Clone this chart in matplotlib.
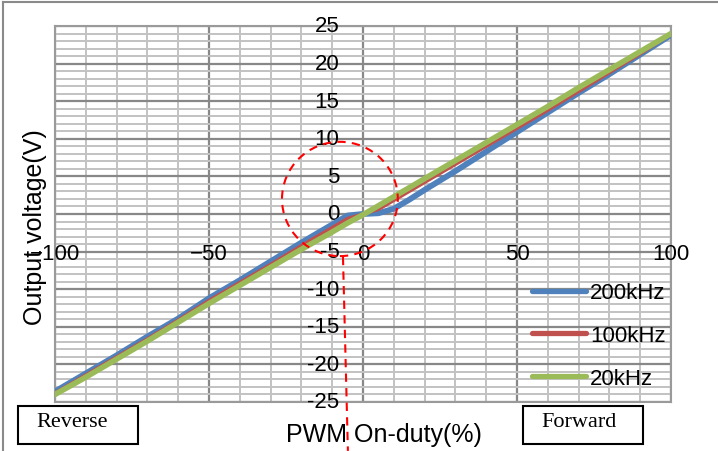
import matplotlib.pyplot as plt
from matplotlib.lines import Line2D
from matplotlib.patches import Ellipse, Rectangle
import numpy as np

###================ Data =================###

duty = [-100, -90, -80, -70, -60, -50, -40, -30, -20, -10, -5, 0,
        5, 10, 15, 20, 30, 40, 50, 60, 70, 80, 90, 100]

v_200khz = [-23.6, -21.2, -18.8, -16.3, -13.9, -11.2, -8.8, -6.3, -3.8, -1.4, -0.2, 0.0,
            0.1, 0.7, 1.9, 3.2, 5.7, 8.3, 10.9, 13.5, 16.1, 18.6, 21.2, 23.8]
v_100khz = [-23.8, -21.4, -19.0, -16.6, -14.1, -11.5, -9.1, -6.7, -4.2, -1.8, -0.6, 0.0,
            0.6, 1.8, 3.0, 4.2, 6.6, 9.0, 11.4, 13.8, 16.3, 18.8, 21.3, 23.9]
v_20khz = [-24.0, -21.7, -19.3, -16.9, -14.4, -11.9, -9.5, -7.1, -4.7, -2.4, -1.2, -0.1,
           1.1, 2.3, 3.5, 4.7, 7.1, 9.5, 11.9, 14.3, 16.8, 19.2, 21.6, 24.0]

series_labels = ["200kHz", "100kHz", "20kHz"]
series_colors = ["#4F81BD", "#C0504D", "#9BBB59"]
series_widths = [4.2, 2.4, 4.0]

x_ticks = [-100, -50, 0, 50, 100]
x_tick_labels = ["\u2212100", "\u221250", "0", "50", "100"]
y_ticks = [25, 20, 15, 10, 5, 0, -5, -10, -15, -20, -25]
y_tick_labels = ["25", "20", "15", "10", "5", "0", "-5", "-10", "-15", "-20", "-25"]

###================ Figure =================###

W, H = 718, 452
plt.rcParams['font.family'] = ['Liberation Sans', 'DejaVu Sans']

fig = plt.figure(figsize=(W / 100, H / 100), dpi=100)
ax = fig.add_axes([55 / W, (H - 403) / H, 616 / W, 376 / H])

ax.set_xlim(-100, 100)
ax.set_ylim(-25, 25)

# grid: minor every 10% / 1 V, major every 50% / 5 V
ax.set_xticks(np.arange(-100, 101, 50))
ax.set_xticks(np.arange(-100, 101, 10), minor=True)
ax.set_yticks(np.arange(-25, 26, 5))
ax.set_yticks(np.arange(-25, 26, 1), minor=True)
ax.grid(which='minor', color='#c2c2c2', lw=1.4, zorder=0)
ax.grid(which='major', color='#888888', lw=1.6, zorder=0)
ax.set_axisbelow(True)
ax.tick_params(which='both', length=0, labelbottom=False, labelleft=False)
for sp in ax.spines.values():
    sp.set_color('#9a9a9a')
    sp.set_linewidth(1.5)

# centered tick labels
for xt, lab in zip(x_ticks, x_tick_labels):
    ax.text(xt, -5.2, lab, ha='center', va='center', fontsize=16)
for yt, lab in zip(y_ticks, y_tick_labels):
    ax.text(-7.6, yt, lab, ha='right', va='center', fontsize=16)

for vals, lab, col, lw in zip([v_200khz, v_100khz, v_20khz], series_labels,
                              series_colors, series_widths):
    ax.plot(duty, vals, color=col, lw=lw, label=lab, solid_capstyle='round',
            solid_joinstyle='round', zorder=3)

handles = [Line2D([], [], color=c, lw=3.8, solid_capstyle='round') for c in series_colors]
ax.legend(handles, series_labels, loc='upper left', bbox_to_anchor=(0.775, 0.318),
          frameon=False, fontsize=16, handlelength=2.4, handletextpad=0.2,
          labelspacing=0.98, borderpad=0, borderaxespad=0)

# red dashed highlight circle and leader line
ax.add_patch(Ellipse((-7.5, 2.0), 37.6, 15.2, fill=False, ec='red', lw=1.5,
                     ls=(0, (4, 3)), zorder=4))
ax.plot([-6.5, -4.9], [-5.7, -31.5], color='red', lw=1.5, ls=(0, (4, 3)),
        clip_on=False, zorder=4)

fig.text(35 / W, 1 - 227 / H, "Output voltage(V)", rotation=90,
         ha='center', va='center', fontsize=18)
fig.text(384 / W, 1 - 435 / H, "PWM On-duty(%)", ha='center', va='center', fontsize=18)

# Reverse / Forward boxes
for x0, lab in [(18, "Reverse"), (523, "Forward")]:
    fig.patches.append(Rectangle((x0 / W, (H - 445) / H), 120 / W, 38 / H,
                                 transform=fig.transFigure, fill=False,
                                 ec='black', lw=1.5))
    fig.text((x0 + 18) / W, 1 - 423 / H, lab, ha='left', va='center',
             fontsize=16, family='Liberation Serif')

# outer frame (top and left only)
fig.add_artist(Line2D([3 / W, 1], [1 - 3 / H, 1 - 3 / H], color='#8a8a8a', lw=1.5,
                      transform=fig.transFigure))
fig.add_artist(Line2D([3 / W, 3 / W], [0, 1 - 3 / H], color='#8a8a8a', lw=1.5,
                      transform=fig.transFigure))

fig.savefig("out.png", dpi=100)
